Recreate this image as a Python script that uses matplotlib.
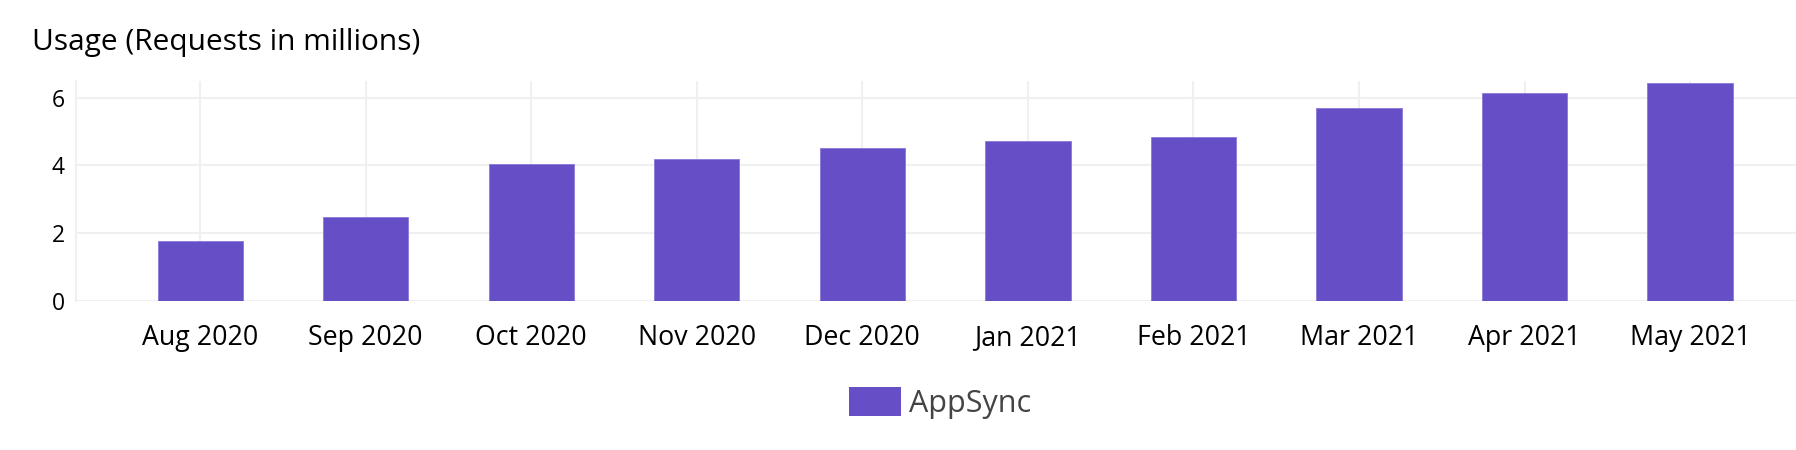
import numpy as np
import matplotlib.pyplot as plt
from matplotlib.patches import Patch

plt.rcParams['font.family'] = ['Open Sans', 'DejaVu Sans']

months = ['Aug 2020', 'Sep 2020', 'Oct 2020', 'Nov 2020', 'Dec 2020',
          'Jan 2021', 'Feb 2021', 'Mar 2021', 'Apr 2021', 'May 2021']
requests = [1.75, 2.47, 4.04, 4.18, 4.50, 4.71, 4.83, 5.69, 6.15, 6.43]
series_name = 'AppSync'
yticks = [0, 2, 4, 6]

bar_color = '#664fc6'
grid_color = '#f0f0f0'

fig = plt.figure(figsize=(17.96, 4.5), dpi=100)
ax = fig.add_axes([76 / 1796, 1 - 300.7 / 450, 1 - 76 / 1796, (300.7 - 81) / 450])

x = np.arange(len(months))
ax.bar(x, requests, width=0.515, color=bar_color, edgecolor='#8a78d8', linewidth=0.6, zorder=3)

ax.set_xlim(-0.75, len(months) - 1 + 0.64)
ax.set_ylim(0, 6.49)
ax.set_xticks(x)
ax.set_xticklabels(months, fontsize=19.3)
ax.set_yticks(yticks)
ax.set_yticklabels([str(t) for t in yticks], fontsize=16.5)
ax.tick_params(axis='both', length=0, colors='#000000')
ax.tick_params(axis='x', pad=17)
ax.tick_params(axis='y', pad=8)

ax.grid(True, color=grid_color, linewidth=1.5, zorder=0)
for side in ['top', 'right', 'bottom']:
    ax.spines[side].set_visible(False)
ax.spines['left'].set_color(grid_color)
ax.spines['left'].set_linewidth(1.5)

fig.text(32 / 1796, 1 - 50 / 450, 'Usage (Requests in millions)', fontsize=21.5,
         va='baseline', ha='left', color='#000000')

handle = Patch(facecolor=bar_color, edgecolor='none', label=series_name)
fig.legend(handles=[handle], loc='center', bbox_to_anchor=(940 / 1796, 1 - 403 / 450),
           frameon=False, fontsize=22, handlelength=1.7, handleheight=1.1,
           handletextpad=0.25, labelcolor='#444444')

fig.savefig('out.png', dpi=100)
